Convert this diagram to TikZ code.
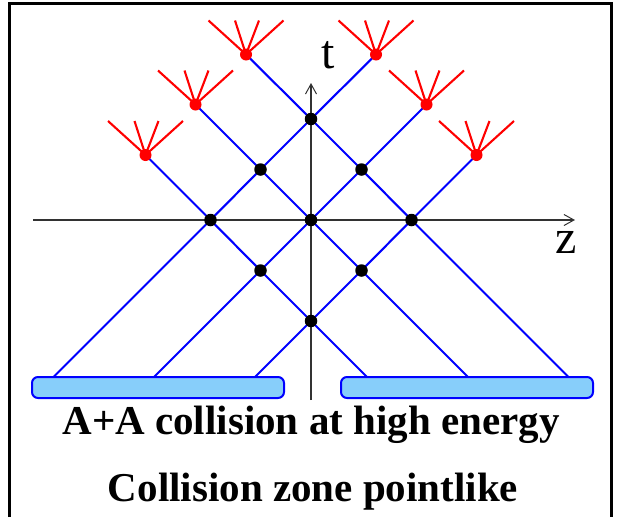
\documentclass[tikz,border=0pt]{standalone}
\usepackage{fontspec}
\setmainfont{Liberation Serif}
\usetikzlibrary{arrows.meta}
\definecolor{barfill}{RGB}{135,206,250}
\definecolor{axisgray}{RGB}{50,50,50}
\begin{document}
\begin{tikzpicture}[x=1pt,y=-1pt,
  worldline/.style={draw=blue,line width=2.1pt},
  fanline/.style={draw=red,line width=2.1pt},
  hit/.style={circle,fill=black,inner sep=0pt,minimum size=12.5pt},
  hadron/.style={circle,fill=red,inner sep=0pt,minimum size=12pt},
  nucleus/.style={rectangle,rounded corners=6pt,draw=blue,line width=2pt,fill=barfill,minimum width=252pt,minimum height=21pt,inner sep=0pt},
  axisline/.style={draw=axisgray,line width=1.1pt,-{Straight Barb[length=10pt,width=11pt,line width=1pt]}},
  axislabel/.style={font=\fontsize{48}{48}\selectfont,inner sep=0pt,anchor=base},
  caption/.style={font=\fontsize{41}{41}\selectfont\bfseries,inner sep=0pt,anchor=base}]
\useasboundingbox (0,0) rectangle (618,517);
% frame
\coordinate (f1) at (9.5,517);
\coordinate (f2) at (9.5,3.5);
\coordinate (f3) at (611,3.5);
\coordinate (f4) at (611,517);
\draw[line width=3pt] (f1) -- (f2) -- (f3) -- (f4);
% axes
\coordinate (tb) at (311,400);
\coordinate (tt) at (311,83);
\coordinate (zl) at (33,220);
\coordinate (zr) at (575,220);
\draw[axisline] (tb) -- (tt);
\draw[axisline] (zl) -- (zr);
\node[axislabel] (tlab) at (328,68) {t};
\node[axislabel] (zlab) at (566.5,253) {z};
% interaction points
\coordinate (b1) at (311,119);
\coordinate (b2) at (260.5,169.5);
\coordinate (b3) at (361.5,169.5);
\coordinate (b4) at (210.5,220);
\coordinate (b5) at (311,220);
\coordinate (b6) at (411.5,220);
\coordinate (b7) at (260.5,270.5);
\coordinate (b8) at (361.5,270.5);
\coordinate (b9) at (311,321);
% final hadron vertices
\coordinate (r1) at (145.5,155);
\coordinate (r2) at (195.5,104.5);
\coordinate (r3) at (246,54.5);
\coordinate (r4) at (376,54.5);
\coordinate (r5) at (426.5,104.5);
\coordinate (r6) at (476.5,155);
% start points on nuclei
\coordinate (s1) at (53.5,377);
\coordinate (s2) at (154,377);
\coordinate (s3) at (255,377);
\coordinate (s4) at (367,377);
\coordinate (s5) at (468,377);
\coordinate (s6) at (568.5,377);
% world lines
\draw[worldline] (s1) -- (b4) -- (b2) -- (b1) -- (r4);
\draw[worldline] (s2) -- (b5) -- (b3) -- (r5);
\draw[worldline] (s3) -- (b9) -- (b8) -- (b6) -- (r6);
\draw[worldline] (s4) -- (b9) -- (b7) -- (b4) -- (r1);
\draw[worldline] (s5) -- (b5) -- (b2) -- (r2);
\draw[worldline] (s6) -- (b6) -- (b3) -- (b1) -- (r3);
% nuclei
\node[nucleus] (nl) at (158,387.5) {};
\node[nucleus] (nr) at (467,387.5) {};
% fans
\foreach \r in {r1,r2,r3,r4,r5,r6}{
  \draw[fanline] (\r) -- ++(-37.5,-34);
  \draw[fanline] (\r) -- ++(-11,-34);
  \draw[fanline] (\r) -- ++(13,-34);
  \draw[fanline] (\r) -- ++(37.5,-34);
}
% dots
\foreach \b in {b1,b2,b3,b4,b5,b6,b7,b8,b9}{
  \node[hit] (d\b) at (\b) {};
}
\foreach \r in {r1,r2,r3,r4,r5,r6}{
  \node[hadron] (d\r) at (\r) {};
}
% captions
\node[caption] (cap1) at (311,434) {A+A collision at high energy};
\node[caption] (cap2) at (313,501) {Collision zone pointlike};
\end{tikzpicture}
\end{document}
